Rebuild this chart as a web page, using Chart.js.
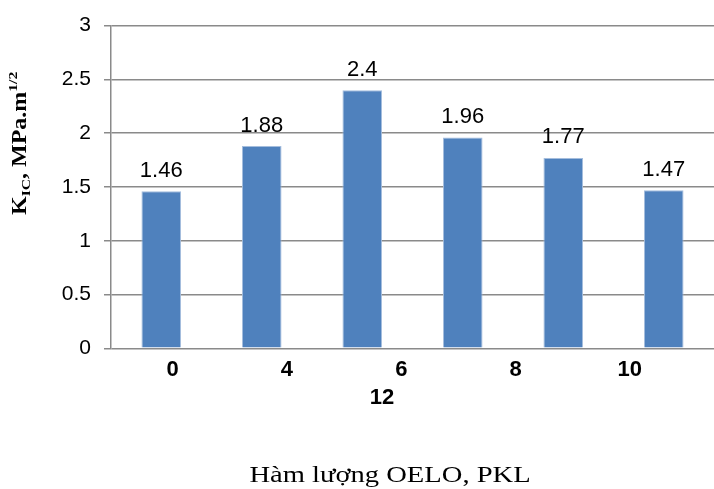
<!DOCTYPE html>
<html>
<head>
<meta charset="utf-8">
<script src="https://cdn.jsdelivr.net/npm/chart.js@4.4.1/dist/chart.umd.min.js"></script>
<style>
    html, body { margin: 0; padding: 0; background: #fff; }
    #wrap { width: 714px; height: 489px; }
</style>
</head>
<body>
<div id="wrap"><canvas id="chart"></canvas></div>
<script>
// Chart data
const categories = ['0', '4', '6', '8', '10', '12'];
const kicValues = [1.46, 1.88, 2.4, 1.96, 1.77, 1.47];
const yTicks = [0, 0.5, 1, 1.5, 2, 2.5, 3];
const xTickLabels = ['0', '4', '6', '8', '10'];
const wrappedLabel = '12';

const gridColor = '#8a8a8a';
// the label axis is offset from the bars, like in the original sheet
const LABEL_MIN = -0.54;
const LABEL_MAX = 4.737;
const WRAP_POS = 1.832;

// Value labels above each bar
const valueLabels = {
    id: 'valueLabels',
    afterDatasetsDraw(chart) {
        const ctx = chart.ctx;
        const meta = chart.getDatasetMeta(0);
        ctx.save();
        ctx.font = '22px "Liberation Sans", Arial, sans-serif';
        ctx.fillStyle = '#000';
        ctx.textAlign = 'center';
        ctx.textBaseline = 'alphabetic';
        meta.data.forEach((bar, i) => {
            ctx.fillText(String(kicValues[i]), bar.x, bar.y - 14.5);
        });
        ctx.restore();
    }
};

// Axis titles (with subscript / superscript on the y title)
const axisTitles = {
    id: 'axisTitles',
    afterDraw(chart) {
        const ctx = chart.ctx;
        ctx.save();
        ctx.fillStyle = '#000';

        // x title (text is a bit stretched in the original)
        ctx.save();
        ctx.translate(390, 482);
        ctx.scale(1.19, 1);
        ctx.font = '24px "Liberation Serif", "Times New Roman", serif';
        ctx.textAlign = 'center';
        ctx.textBaseline = 'alphabetic';
        ctx.fillText('Hàm lượng OELO, PKL', 0, 0);
        ctx.restore();

        // y title, rotated
        const parts = [
            { t: 'K', size: 20, dy: 0 },
            { t: 'IC', size: 13, dy: 4 },
            { t: ', MPa.m', size: 20, dy: 0 },
            { t: '1/2', size: 13, dy: -9 }
        ];
        ctx.translate(26, 215);
        ctx.rotate(-Math.PI / 2);
        ctx.scale(1.2, 1);
        ctx.textAlign = 'left';
        ctx.textBaseline = 'alphabetic';
        let x = 0;
        parts.forEach(p => {
            ctx.font = 'bold ' + p.size + 'px "Liberation Serif", "Times New Roman", serif';
            ctx.fillText(p.t, x, p.dy);
            x += ctx.measureText(p.t).width;
        });
        ctx.restore();
    }
};

const ctx = document.getElementById('chart').getContext('2d');
const chart = new Chart(ctx, {
    type: 'bar',
    data: {
        labels: categories,
        datasets: [{
            data: kicValues,
            backgroundColor: '#4f81bd',
            borderColor: '#a4bddd',
            borderWidth: 1,
            barPercentage: 0.394,
            categoryPercentage: 1
        }]
    },
    options: {
        responsive: true,
        maintainAspectRatio: false,
        animation: false,
        layout: { padding: { top: 24, left: 0, right: -6, bottom: 0 } },
        plugins: {
            legend: { display: false },
            tooltip: { enabled: false }
        },
        scales: {
            x: {
                display: false
            },
            x2: {
                type: 'linear',
                position: 'bottom',
                offset: false,
                min: LABEL_MIN,
                max: LABEL_MAX,
                grid: { display: false, drawTicks: false, offset: false },
                border: { display: false },
                afterBuildTicks(scale) {
                    const ticks = xTickLabels.map((t, i) => ({ value: i }));
                    ticks.push({ value: WRAP_POS });
                    scale.ticks = ticks;
                },
                afterFit(scale) { scale.height = 140.7; },
                ticks: {
                    autoSkip: false,
                    maxRotation: 0,
                    padding: 8,
                    color: '#000',
                    font: { family: '"Liberation Sans", Arial, sans-serif', size: 22, weight: 'bold', lineHeight: 1.27 },
                    callback(value) {
                        if (value === WRAP_POS) return ['', wrappedLabel];
                        return xTickLabels[value];
                    }
                }
            },
            y: {
                min: 0,
                max: 3,
                afterBuildTicks(scale) {
                    scale.ticks = yTicks.map(v => ({ value: v }));
                },
                afterFit(scale) { scale.width = 111; },
                grid: {
                    color: gridColor,
                    lineWidth: 1.5,
                    drawTicks: true,
                    tickLength: 7
                },
                border: { display: true, color: gridColor, width: 1.5 },
                ticks: {
                    padding: 13,
                    color: '#000',
                    font: { family: '"Liberation Sans", Arial, sans-serif', size: 21 },
                    callback: (v) => String(v)
                }
            }
        }
    },
    plugins: [valueLabels, axisTitles]
});
</script>
</body>
</html>
